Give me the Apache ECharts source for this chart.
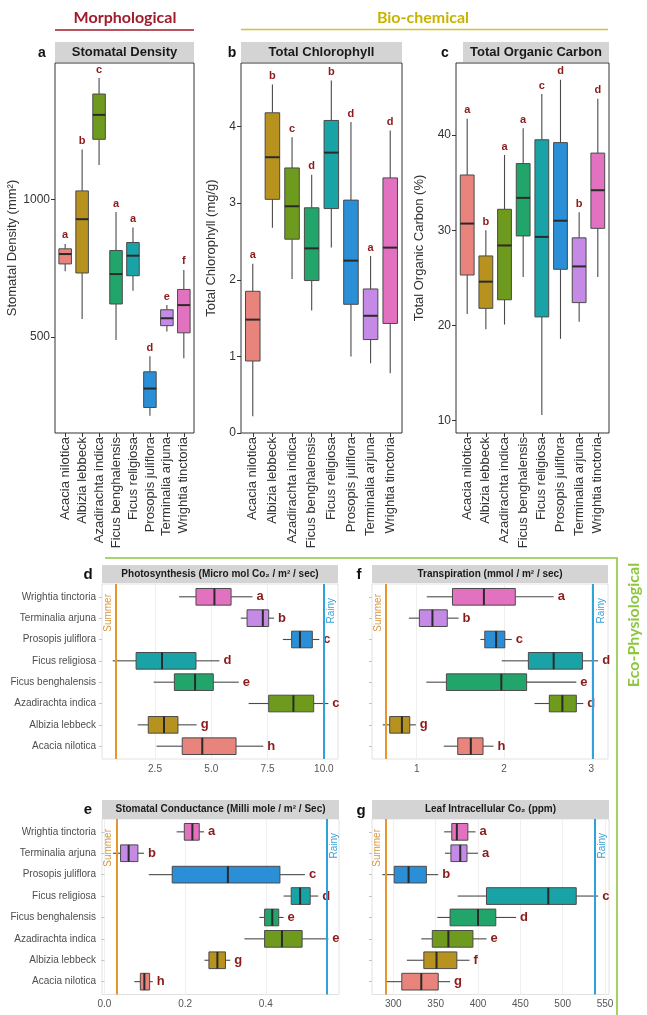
<!DOCTYPE html>
<html><head><meta charset="utf-8">
<script src="https://cdn.jsdelivr.net/npm/echarts@6/dist/echarts.min.js"></script>
<style>html,body{margin:0;padding:0;background:#fff}#c{width:647px;height:1015px}</style>
</head><body><div id="c"></div>
<script>
// ---------------- data ----------------
const species = ["Acacia nilotica","Albizia lebbeck","Azadirachta indica","Ficus benghalensis","Ficus religiosa","Prosopis juliflora","Terminalia arjuna","Wrightia tinctoria"];
const speciesColors = ['#e8847b','#b8921e','#6e9a1e','#22a56b','#1aa3a6','#2a8fd6','#c48ae6','#e272c0'];
const catIdx = [1,2,3,4,5,6,7,8];

// [min, q1, median, q3, max] per species
const stomatalDensity = [[739,766,802,821,839],[565,733,929,1032,1183],[1126,1220,1309,1385,1443],[489,620,729,815,955],[668,723,796,844,899],[213,243,312,373,430],[520,541,568,599,616],[422,515,616,673,744]];
const stomatalDensityLetters = ['a','b','c','a','a','d','e','f'];
const chlorophyll = [[0.22,0.94,1.48,1.85,2.21],[2.68,3.05,3.60,4.18,4.55],[2.01,2.53,2.96,3.46,3.86],[1.60,1.99,2.41,2.94,3.37],[2.42,2.93,3.66,4.08,4.60],[1.00,1.68,2.25,3.04,4.06],[0.91,1.22,1.53,1.88,2.31],[0.78,1.43,2.42,3.33,3.95]];
const chlorophyllLetters = ['a','b','c','d','b','d','a','d'];
const organicCarbon = [[21.2,25.3,30.7,35.8,41.7],[19.6,21.8,24.6,27.3,30.0],[20.1,22.7,28.4,32.2,37.9],[25.1,29.4,33.4,37.0,40.7],[10.6,20.9,29.3,39.5,44.3],[18.6,25.9,31.0,39.2,45.8],[20.4,22.4,26.2,29.2,31.9],[25.1,30.2,34.2,38.1,43.8]];
const organicCarbonLetters = ['a','b','a','a','c','d','b','d'];

const photosynthesis = [[2.57,3.71,4.60,6.10,7.31],[1.73,2.20,2.90,3.52,4.35],[6.66,7.55,8.65,9.55,10.2],[2.44,3.36,4.28,5.09,6.22],[0.62,1.66,2.81,4.32,5.36],[8.18,8.57,8.94,9.49,9.80],[6.31,6.59,7.29,7.55,7.79],[3.57,4.32,5.14,5.88,6.83]];
const photosynthesisLetters = ['h','g','c','e','d','c','b','a'];
const transpiration = [[1.31,1.47,1.62,1.76,1.88],[0.61,0.69,0.83,0.92,0.99],[2.35,2.52,2.67,2.83,2.91],[1.11,1.34,1.97,2.26,2.83],[1.975,2.28,2.57,2.90,3.08],[1.73,1.78,1.91,2.01,2.09],[0.91,1.03,1.18,1.35,1.48],[1.115,1.41,1.77,2.13,2.57]];
const transpirationLetters = ['h','g','d','e','d','c','b','a'];
const conductance = [[0.074,0.089,0.099,0.112,0.120],[0.248,0.259,0.280,0.300,0.312],[0.347,0.397,0.440,0.490,0.555],[0.384,0.397,0.416,0.432,0.444],[0.444,0.463,0.485,0.510,0.530],[0.110,0.168,0.306,0.435,0.497],[0.021,0.040,0.060,0.083,0.098],[0.179,0.198,0.218,0.235,0.247]];
const conductanceLetters = ['h','g','e','e','d','c','b','a'];
const intracellularCO2 = [[292,310,333,353,367],[316,336,351,375,390],[333,346,365,394,410],[352,367,400,421,445],[376,410,483,516,542],[287,301,318,339,353],[361,368,379,387,400],[360,369,375,388,397]];
const intracellularCO2Letters = ['g','f','e','d','c','b','a','a'];

// tick labels
const densityTicks = [500,1000];
const chlorophyllTicks = [0,1,2,3,4];
const carbonTicks = [10,20,30,40];
const photoTicks = [2.5,5,7.5,10];
const transTicks = [1,2,3];
const condTicks = [0,0.2,0.4];
const co2Ticks = [300,350,400,450,500,550];

// season reference lines [Summer, Rainy]
const seasonPhoto = [0.77,9.98];
const seasonTrans = [0.648,3.025];
const seasonCond = [0.029,0.545];
const seasonCO2 = [290.5,537.4];

// ---------------- chart ----------------
const FONT = 'Liberation Sans, Arial, sans-serif';
const HFONT = 'Lato, Open Sans, sans-serif';
const chart = echarts.init(document.getElementById('c'), null, {renderer:'canvas'});

function makeRender(horizontal, letters){
  return function(params, api){
    const i = api.value(0);
    const v = [1,2,3,4,5].map(k => api.value(k));
    const P = val => horizontal ? api.coord([val, i]) : api.coord([i, val]);
    const band = horizontal ? Math.abs(api.size([0,1])[1]) : Math.abs(api.size([1,0])[0]);
    const hw = band * (horizontal ? 0.39 : 0.37);
    const p = v.map(P);
    const ci = Math.round(i) - 1;
    const wStyle = {stroke:'#4a4a4a', lineWidth:1.1};
    let ch = [];
    if (horizontal){
      const y = p[0][1];
      ch.push({type:'line', shape:{x1:p[0][0],y1:y,x2:p[1][0],y2:y}, style:wStyle});
      ch.push({type:'line', shape:{x1:p[3][0],y1:y,x2:p[4][0],y2:y}, style:wStyle});
      ch.push({type:'rect', shape:{x:p[1][0], y:y-hw, width:p[3][0]-p[1][0], height:2*hw}, style:{fill:speciesColors[ci], stroke:'#4a4a4a', lineWidth:1}});
      ch.push({type:'line', shape:{x1:p[2][0],y1:y-hw,x2:p[2][0],y2:y+hw}, style:{stroke:'#2a2a2a', lineWidth:2}});
      ch.push({type:'text', x:p[4][0]+4, y:y, style:{text:letters[ci], fill:'#8b1a1a', font:'bold 13px '+FONT, align:'left', verticalAlign:'middle'}});
    } else {
      const x = p[0][0];
      ch.push({type:'line', shape:{x1:x,y1:p[0][1],x2:x,y2:p[1][1]}, style:wStyle});
      ch.push({type:'line', shape:{x1:x,y1:p[3][1],x2:x,y2:p[4][1]}, style:wStyle});
      ch.push({type:'rect', shape:{x:x-hw, y:p[3][1], width:2*hw, height:p[1][1]-p[3][1]}, style:{fill:speciesColors[ci], stroke:'#4a4a4a', lineWidth:1}});
      ch.push({type:'line', shape:{x1:x-hw,y1:p[2][1],x2:x+hw,y2:p[2][1]}, style:{stroke:'#2a2a2a', lineWidth:2}});
      ch.push({type:'text', x:x, y:p[4][1]-3, style:{text:letters[ci], fill:'#8b1a1a', font:'bold 11px '+FONT, align:'center', verticalAlign:'bottom'}});
    }
    return {type:'group', children:ch};
  };
}
const rowsOf = box => box.map((b,i) => [i+1].concat(b));

const grids = [
  {left:55, top:63, width:139, height:370},
  {left:241, top:63, width:161, height:370},
  {left:456, top:63, width:153, height:370},
  {left:102, top:584, width:236, height:175},
  {left:372, top:584, width:236, height:175},
  {left:102, top:819, width:237, height:175.5},
  {left:372, top:819, width:237, height:175.5}
].map((g,k) => Object.assign(g, {show:true, backgroundColor:'#fff', borderColor: k<3 ? '#333' : '#e2e2e2', borderWidth:1}));

const xAxes = [], yAxes = [], series = [];

function topPanel(gi, data, letters, yMin, yMax, ticks, name, gap){
  xAxes.push({gridIndex:gi, type:'value', min:0.4, max:8.6,
    axisLine:{show:false}, splitLine:{show:false},
    axisTick:{show:true, customValues:catIdx, length:4, lineStyle:{color:'#333'}},
    axisLabel:{customValues:catIdx, formatter:v => species[Math.round(v)-1], rotate:90, fontSize:13, color:'#333', margin:4, fontFamily:FONT}});
  yAxes.push({gridIndex:gi, type:'value', min:yMin, max:yMax,
    axisLine:{show:false}, splitLine:{show:false},
    axisTick:{show:true, customValues:ticks, length:4, lineStyle:{color:'#333'}},
    axisLabel:{customValues:ticks, formatter:v => String(v), fontSize:12, color:'#333', margin:5, fontFamily:FONT},
    name:name, nameLocation:'middle', nameGap:gap, nameTextStyle:{fontSize:13, color:'#333', fontFamily:FONT}});
  series.push({type:'custom', xAxisIndex:gi, yAxisIndex:gi, data:rowsOf(data), renderItem:makeRender(false, letters), encode:{x:0, y:[1,2,3,4,5]}, animation:false, silent:true});
}

function botPanel(gi, data, letters, xMin, xMax, ticks, fmt, showCat, season){
  xAxes.push({gridIndex:gi, type:'value', min:xMin, max:xMax,
    axisLine:{show:false},
    splitLine:{show:true, lineStyle:{color:'#efefef', width:1}},
    axisTick:{show:false, customValues:ticks},
    axisLabel:{customValues:ticks, formatter:fmt, fontSize:10, color:'#555', margin:5, fontFamily:FONT}});
  yAxes.push({gridIndex:gi, type:'value', min:0.4, max:8.6,
    axisLine:{show:false}, splitLine:{show:false},
    axisTick:{show:true, customValues:catIdx, length:3, lineStyle:{color:'#c4c4c4'}},
    axisLabel:{show:showCat, customValues:catIdx, formatter:v => species[Math.round(v)-1], fontSize:10, color:'#4d4d4d', margin:6, fontFamily:FONT}});
  series.push({type:'custom', xAxisIndex:gi, yAxisIndex:gi, data:rowsOf(data), renderItem:makeRender(true, letters), encode:{x:[1,2,3,4,5], y:0}, animation:false, silent:true,
    markLine:{silent:true, animation:false, symbol:['none','none'],
      data:[
        {xAxis:season[0], lineStyle:{color:'#e8962c', width:2, type:'solid'}, label:{show:true, formatter:'Summer', position:'insideEndTop', color:'#d8963e', fontSize:10, fontFamily:FONT, distance:[10,3]}},
        {xAxis:season[1], lineStyle:{color:'#2fa1db', width:2, type:'solid'}, label:{show:true, formatter:'Rainy', position:'insideEndBottom', color:'#3aa0d6', fontSize:10, fontFamily:FONT, distance:[14,3]}}
      ]}});
}

topPanel(0, stomatalDensity, stomatalDensityLetters, 150, 1498, densityTicks, 'Stomatal Density (mm²)', 35);
topPanel(1, chlorophyll, chlorophyllLetters, 0, 4.83, chlorophyllTicks, 'Total Chlorophyll (mg/g)', 23);
topPanel(2, organicCarbon, organicCarbonLetters, 8.71, 47.56, carbonTicks, 'Total Organic Carbon (%)', 30);
botPanel(3, photosynthesis, photosynthesisLetters, 0.145, 10.63, photoTicks, v => v.toFixed(1), true, seasonPhoto);
botPanel(4, transpiration, transpirationLetters, 0.487, 3.193, transTicks, v => String(v), false, seasonTrans);
botPanel(5, conductance, conductanceLetters, -0.006, 0.5814, condTicks, v => v.toFixed(1), true, seasonCond);
botPanel(6, intracellularCO2, intracellularCO2Letters, 274.8, 554.7, co2Ticks, v => String(v), false, seasonCO2);

// strips, panel letters, group headings
function strip(x, y, w, h, text, fs){
  return [
    {type:'rect', shape:{x:x, y:y, width:w, height:h}, style:{fill:'#d4d4d4'}, silent:true},
    {type:'text', x:x+w/2, y:y+h/2, style:{text:text, fill:'#1a1a1a', font:'bold '+fs+'px '+FONT, align:'center', verticalAlign:'middle'}, silent:true}
  ];
}
function letter(x, y, t, fs){
  return {type:'text', x:x, y:y, style:{text:t, fill:'#111', font:'bold '+fs+'px '+FONT, align:'center', verticalAlign:'middle'}, silent:true};
}
const graphics = [].concat(
  strip(55, 42, 139, 20, 'Stomatal Density', 13),
  strip(241, 42, 161, 20, 'Total Chlorophyll', 13),
  strip(463, 42, 146, 20, 'Total Organic Carbon', 13),
  strip(102, 565, 236, 18, 'Photosynthesis (Micro mol Co\u2082 / m\u00b2 / sec)', 10),
  strip(372, 565, 236, 18, 'Transpiration (mmol / m\u00b2 / sec)', 10),
  strip(102, 800, 237, 19, 'Stomatal Conductance (Milli mole / m\u00b2 / Sec)', 10),
  strip(372, 800, 237, 19, 'Leaf Intracellular Co\u2082 (ppm)', 10),
  [
    letter(42, 53, 'a', 14), letter(232, 53, 'b', 14), letter(445, 53, 'c', 14),
    letter(88, 575, 'd', 15), letter(359, 575, 'f', 15), letter(88, 810, 'e', 15), letter(361, 811, 'g', 15),
    {type:'text', x:125, y:18, style:{text:'Morphological', fill:'#a01c2c', font:'bold 16px '+HFONT, align:'center', verticalAlign:'middle'}, silent:true},
    {type:'line', shape:{x1:55, y1:30, x2:194, y2:30}, style:{stroke:'#a01c2c', lineWidth:1.5}, silent:true},
    {type:'text', x:423, y:18, style:{text:'Bio-chemical', fill:'#c8b400', font:'bold 16px '+HFONT, align:'center', verticalAlign:'middle'}, silent:true},
    {type:'line', shape:{x1:241, y1:29.5, x2:608, y2:29.5}, style:{stroke:'#d2c232', lineWidth:1.5}, silent:true},
    {type:'polyline', shape:{points:[[105,558],[617,558],[617,1015]]}, style:{stroke:'#8dc63f', lineWidth:1.6, fill:null}, silent:true},
    {type:'text', x:634, y:625, rotation:Math.PI/2, style:{text:'Eco-Physiological', fill:'#8dc63f', font:'bold 16px '+HFONT, align:'center', verticalAlign:'middle'}, silent:true}
  ]
);

chart.setOption({
  animation:false,
  backgroundColor:'#fff',
  grid:grids, xAxis:xAxes, yAxis:yAxes, series:series,
  graphic:{elements:graphics}
});
</script></body></html>
